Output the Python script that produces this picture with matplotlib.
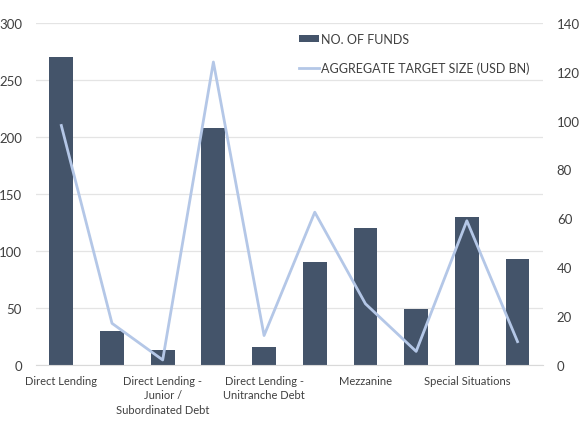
import numpy as np
import matplotlib
matplotlib.use('Agg')
import matplotlib.pyplot as plt
from matplotlib.lines import Line2D
from matplotlib.patches import Patch

# categories (every other label is hidden in the source chart)
categories = ["Direct Lending", "", "Direct Lending -\nJunior /\nSubordinated Debt", "",
              "Direct Lending -\nUnitranche Debt", "", "Mezzanine", "",
              "Special Situations", ""]
no_of_funds = [270, 30, 13, 208, 16, 90, 120, 49, 130, 93]
target_size = [98, 17, 2, 124, 12, 62.5, 25, 5.5, 59, 9.5]

C_BAR = '#44546A'
C_LINE = '#B4C7E7'
C_TEXT = '#404040'
C_GRID = '#E4E4E4'

plt.rcParams['font.family'] = ['Lato', 'DejaVu Sans']

fig = plt.figure(figsize=(5.8, 4.35), dpi=100)
ax = fig.add_axes([0.062, 0.159, 0.874, 0.786])
ax2 = ax.twinx()

x = np.arange(len(categories))
ax.bar(x, no_of_funds, width=0.47, color=C_BAR, zorder=2)
ax2.plot(x, target_size, color=C_LINE, lw=2.0, zorder=3)

ax.set_xlim(-0.5, len(categories) - 0.5)
ax.set_ylim(0, 300)
ax.set_yticks(np.arange(0, 301, 50))
ax2.set_ylim(0, 140)
ax2.set_yticks(np.arange(0, 141, 20))

ax.set_xticks(x)
ax.set_xticklabels(categories, fontsize=8, color=C_TEXT, linespacing=1.4)
ax.yaxis.grid(True, color=C_GRID, lw=0.9, zorder=0)
ax.set_axisbelow(True)

for a in (ax, ax2):
    for s in a.spines.values():
        s.set_visible(False)
    a.tick_params(length=0, labelsize=9.5, colors=C_TEXT, pad=10)
ax.tick_params(axis='x', labelsize=8, pad=7)
ax.spines['bottom'].set_visible(True)
ax.spines['bottom'].set_color('#D9D9D9')

handles = [
    Patch(facecolor=C_BAR, label='NO. OF FUNDS'),
    Line2D([0], [0], color=C_LINE, lw=2.0, label='AGGREGATE TARGET SIZE (USD BN)'),
]
leg = ax.legend(handles=handles, loc='upper left', bbox_to_anchor=(0.51, 0.985),
                frameon=False, fontsize=9, handlelength=1.6, handleheight=0.5,
                handletextpad=0.15, labelspacing=1.3, borderaxespad=0)
for t in leg.get_texts():
    t.set_color(C_TEXT)

fig.savefig('out.png', dpi=100)
